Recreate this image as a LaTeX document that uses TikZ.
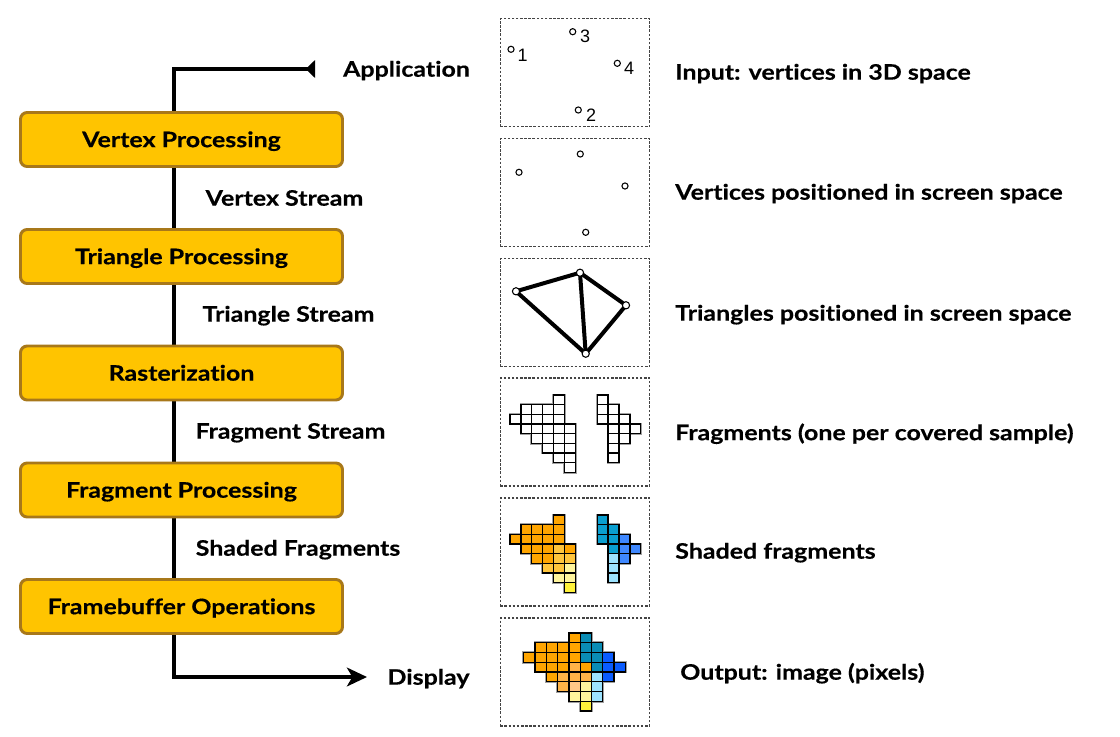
\documentclass[tikz,border=0pt]{standalone}
\usepackage{fontspec}
\setmainfont{Lato}[FakeStretch=1.17,Ligatures=NoCommon,BoldFeatures={FakeBold=0.4}]
\newfontfamily\numfont{Liberation Sans}
\usetikzlibrary{arrows.meta,backgrounds}
\definecolor{boxfill}{HTML}{FFC400}
\definecolor{boxedge}{HTML}{A8781A}
\definecolor{panelline}{HTML}{444444}
\definecolor{haloc}{HTML}{A0A0A0}
\definecolor{cO}{HTML}{FFA500}
\definecolor{cG}{HTML}{FFC53D}
\definecolor{cLY}{HTML}{FFF59D}
\definecolor{cY}{HTML}{FFF23A}
\definecolor{cT}{HTML}{0A9FD0}
\definecolor{cB}{HTML}{3F88FF}
\definecolor{cLB}{HTML}{9DE3FF}
\definecolor{oDT}{HTML}{0A8CB4}
\definecolor{oB}{HTML}{0A5CFF}
\definecolor{oLO}{HTML}{FFB347}
\definecolor{oPe}{HTML}{FFC887}
\begin{document}
\begin{tikzpicture}[x=0.75pt,y=-0.75pt,
  mainfont/.style={font=\fontsize{16pt}{19pt}\selectfont\bfseries},
  stage/.style={mainfont, draw=boxedge, fill=boxfill, line width=2.2pt,
    rounded corners=5pt, minimum width=241.5pt, minimum height=40.5pt,
    inner sep=0pt, text height=11.5pt, text depth=0pt},
  lbl/.style={mainfont, inner sep=0pt, text height=11.5pt, text depth=0pt},
  desc/.style={lbl, anchor=west},
  panel/.style={draw=panelline, line width=1.1pt, dash pattern=on 1.9pt off 1.2pt,
    minimum width=112pt, minimum height=81pt, inner sep=0pt},
  flowline/.style={line width=3.1pt, black},
  vdot/.style={circle, draw=black, fill=white, line width=0.8pt, minimum size=4.6pt, inner sep=0pt},
  tdot/.style={circle, draw=black, fill=white, line width=0.8pt, minimum size=5.4pt, inner sep=0pt},
  num/.style={font=\numfont\fontsize{13.5pt}{16pt}\selectfont, inner sep=0pt},
  edge/.style={line width=3pt, black, line cap=round},
  halo/.style={draw=haloc, line width=2pt},
  cell/.style={draw=black, line width=0.95pt}
]
\useasboundingbox (0,0) rectangle (1120,736);

% ---- pipeline stages ----
\coordinate (spine) at (174,0);
\node[stage] (vp) at (181.5,139.5) {Vertex Processing};
\node[stage] (tp) at (181.5,256.5) {Triangle Processing};
\node[stage] (ra) at (181.5,373) {Rasterization};
\node[stage] (fp) at (181.5,490) {Fragment Processing};
\node[stage] (fb) at (181.5,606.5) {Framebuffer Operations};

\coordinate (appTip) at (315,69);
\coordinate (dispTip) at (367,677);

\begin{scope}[on background layer]
  \fill[white] (0,0) rectangle (1120,736);
  \draw[flowline, -{Triangle[reversed,length=7pt,width=13pt]}] (vp.north -| spine) |- (appTip);
  \draw[flowline] (vp.south -| spine) -- (tp.north -| spine);
  \draw[flowline] (tp.south -| spine) -- (ra.north -| spine);
  \draw[flowline] (ra.south -| spine) -- (fp.north -| spine);
  \draw[flowline] (fp.south -| spine) -- (fb.north -| spine);
  \draw[flowline, -{Stealth[length=15pt,width=14pt,inset=4pt]}] (fb.south -| spine) |- (dispTip);
\end{scope}

% ---- stream labels ----
\node[lbl] (app) at (406.5,69) {Application};
\node[lbl] (vs) at (284.5,198) {Vertex Stream};
\node[lbl] (ts) at (288.5,314) {Triangle Stream};
\node[lbl] (fs) at (290.5,431) {Fragment Stream};
\node[lbl] (sf) at (298,548) {Shaded Fragments};
\node[lbl] (disp) at (428.5,677) {Display};

% ---- panels ----
\node[panel] (p1) at (575,72.5) {};
\node[panel] (p2) at (575,192.5) {};
\node[panel] (p3) at (575,312.5) {};
\node[panel] (p4) at (575,432) {};
\node[panel] (p5) at (575,552) {};
\node[panel] (p6) at (575,672) {};

% panel 1: input vertices
\node[vdot] (a1) at (511,49.3) {};
\node[vdot] (a3) at (572.7,31.7) {};
\node[vdot] (a4) at (617.3,63.3) {};
\node[vdot] (a2) at (578.3,110) {};
\node[num] (n1) at (522.5,55.5) {1};
\node[num] (n3) at (585,36.7) {3};
\node[num] (n4) at (629,68) {4};
\node[num] (n2) at (591,115) {2};

% panel 2: screen-space vertices
\node[vdot] (b1) at (519,172.3) {};
\node[vdot] (b3) at (580.3,154) {};
\node[vdot] (b4) at (625,186) {};
\node[vdot] (b2) at (585.7,232.3) {};

% panel 3: triangles
\coordinate (c1) at (516,291.3);
\coordinate (c3) at (580,272.7);
\coordinate (c4) at (626,305.3);
\coordinate (c2) at (585.7,353.7);
\draw[edge] (c1) -- (c3) -- (c4) -- (c2) -- cycle;
\draw[edge] (c3) -- (c2);
\node[tdot] (t1) at (c1) {};
\node[tdot] (t3) at (c3) {};
\node[tdot] (t4) at (c4) {};
\node[tdot] (t2) at (c2) {};

% panel 4: fragments
\def\fraglist{4/0,1/1,2/1,3/1,4/1,0/2,1/2,2/2,3/2,4/2,1/3,2/3,3/3,4/3,5/3,2/4,3/4,4/4,5/4,3/5,4/5,5/5,4/6,5/6,5/7,8/0,8/1,9/1,8/2,9/2,10/2,9/3,10/3,11/3,9/4,10/4,9/5,9/6}
\foreach \c/\r in \fraglist {
  \draw[halo] (510+\c*10.9,395+\r*9.65) rectangle ++(10.9,9.65);
}
\foreach \c/\r in \fraglist {
  \draw[cell, fill=white] (510+\c*10.9,395+\r*9.65) rectangle ++(10.9,9.65);
}

% panel 5: shaded fragments
\def\shadelist{4/0/cO,1/1/cO,2/1/cO,3/1/cO,4/1/cO,0/2/cO,1/2/cO,2/2/cO,3/2/cO,4/2/cO,1/3/cO,2/3/cO,3/3/cO,4/3/cG,5/3/cO,2/4/cO,3/4/cO,4/4/cG,5/4/cG,3/5/cG,4/5/cG,5/5/cLY,4/6/cLY,5/6/cLY,5/7/cY,8/0/cT,8/1/cT,9/1/cT,8/2/cT,9/2/cT,10/2/cB,9/3/cT,10/3/cB,11/3/cB,9/4/cLB,10/4/cB,9/5/cLB,9/6/cLB}
\foreach \c/\r/\k in \shadelist {
  \draw[halo] (510+\c*10.9,515+\r*9.65) rectangle ++(10.9,9.65);
}
\foreach \c/\r/\k in \shadelist {
  \draw[cell, fill=\k] (510+\c*10.9,515+\r*9.65) rectangle ++(10.9,9.65);
}

% panel 6: output image
\def\outlist{4/0/cO,5/0/oDT,1/1/cO,2/1/cO,3/1/cO,4/1/cO,5/1/oDT,6/1/oDT,0/2/cO,1/2/cO,2/2/cO,3/2/cO,4/2/cO,5/2/oDT,6/2/oDT,7/2/oB,1/3/cO,2/3/cO,3/3/cO,4/3/oLO,5/3/cO,6/3/oDT,7/3/oB,8/3/oB,2/4/cO,3/4/oLO,4/4/oLO,5/4/oLO,6/4/cLB,7/4/oB,3/5/oLO,4/5/oPe,5/5/cLY,6/5/cLB,4/6/cLY,5/6/cLY,6/6/cLB,5/7/cY}
\foreach \c/\r/\k in \outlist {
  \draw[halo] (523.7+\c*11.3,633+\r*9.76) rectangle ++(11.3,9.76);
}
\foreach \c/\r/\k in \outlist {
  \draw[cell, fill=\k] (523.7+\c*11.3,633+\r*9.76) rectangle ++(11.3,9.76);
}

% ---- descriptions ----
\node[desc] (d1) at (675,72) {Input: vertices in 3D space};
\node[desc] (d2) at (675,192) {Vertices positioned in screen space};
\node[desc] (d3) at (675,313) {Triangles positioned in screen space};
\node[desc] (d4) at (675,432.5) {Fragments (one per covered sample)};
\node[desc] (d5) at (675,551) {Shaded fragments};
\node[desc] (d6) at (680,672) {Output: image (pixels)};
\end{tikzpicture}
\end{document}
